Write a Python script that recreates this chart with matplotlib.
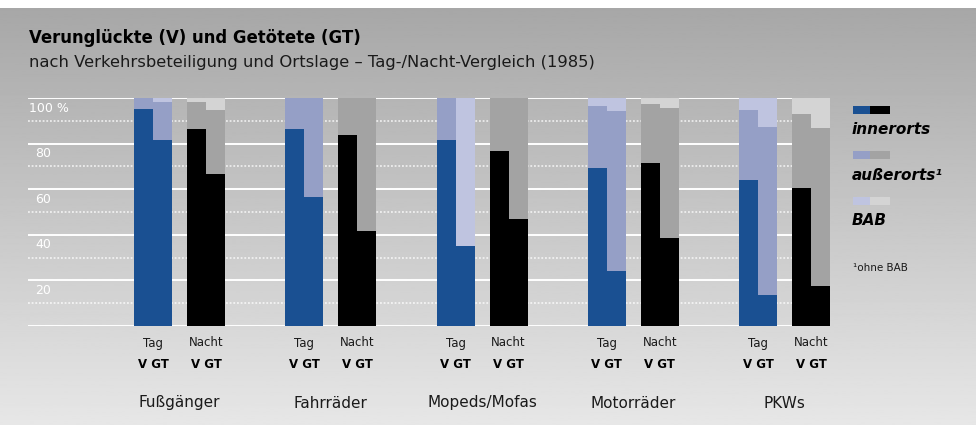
import numpy as np
import matplotlib
matplotlib.use("Agg")
import matplotlib.pyplot as plt

plt.rcParams['font.family'] = ['DejaVu Sans']

categories = ['Fußgänger', 'Fahrräder', 'Mopeds/Mofas', 'Motorräder', 'PKWs']
day_labels = ['Tag', 'Nacht']
sub_labels = 'V GT'
legend_labels = ['innerorts', 'außerorts¹', 'BAB']
footnote = '¹ohne BAB'
yticks = [20, 40, 60, 80, 100]

# shares in % (innerorts, außerorts, BAB)
tag_v_inner = [95.2, 86.4, 81.6, 69.3, 64.0]
tag_v_ausser = [4.8, 13.6, 18.4, 27.2, 30.7]
tag_v_bab = [0.0, 0.0, 0.0, 3.5, 5.3]
tag_gt_inner = [81.6, 56.6, 35.1, 24.1, 13.6]
tag_gt_ausser = [16.6, 43.4, 64.9, 70.2, 73.7]
tag_gt_bab = [1.8, 0.0, 0.0, 5.7, 12.7]
nacht_v_inner = [86.4, 83.8, 76.8, 71.5, 60.5]
nacht_v_ausser = [11.8, 16.2, 23.2, 25.9, 32.5]
nacht_v_bab = [1.8, 0.0, 0.0, 2.6, 7.0]
nacht_gt_inner = [66.7, 41.7, 46.9, 38.6, 17.5]
nacht_gt_ausser = [28.0, 58.3, 53.1, 57.0, 69.3]
nacht_gt_bab = [5.3, 0.0, 0.0, 4.4, 13.2]

W, H = 976, 425
fig = plt.figure(figsize=(W / 100, H / 100), dpi=100)

# background gradient
bg = fig.add_axes([0, 0, 1, 1])
bg.set_xlim(0, W)
bg.set_ylim(H, 0)
bg.axis('off')
grad = np.linspace(0.655, 0.905, 300).reshape(-1, 1)
bg.imshow(grad, cmap='gray', vmin=0, vmax=1, extent=[0, W, H, 8], aspect='auto')
bg.add_patch(plt.Rectangle((0, 0), W, 8, color='white', lw=0))

# main axes: px 28..830 horizontally, 98..326 vertically
ax = fig.add_axes([28 / W, (H - 326) / H, (830 - 28) / W, 228 / H])
ax.set_facecolor('none')
ax.set_xlim(-1.0017, 4.3008)
ax.set_ylim(0, 100)
ax.axis('off')

for v in [0, 20, 40, 60, 80, 100]:
    ax.axhline(v, color='white', lw=1.4, zorder=1)
for v in [10, 30, 50, 70, 90]:
    ax.axhline(v, color='white', lw=1.1, ls=(0, (1.2, 1.2)), zorder=1, alpha=0.85)

blue_cols = ['#1a5092', '#959fc6', '#bfc4e0']
gray_cols = ['#000000', '#a3a3a3', '#d4d4d4']

bw = 19 / 151.25
off_day = 26.5 / 151.25
x = np.arange(len(categories))

series = [
    (-off_day - bw / 2, [tag_v_inner, tag_v_ausser, tag_v_bab], blue_cols),
    (-off_day + bw / 2, [tag_gt_inner, tag_gt_ausser, tag_gt_bab], blue_cols),
    (off_day - bw / 2, [nacht_v_inner, nacht_v_ausser, nacht_v_bab], gray_cols),
    (off_day + bw / 2, [nacht_gt_inner, nacht_gt_ausser, nacht_gt_bab], gray_cols),
]
for k, (dx, segs, cols) in enumerate(series):
    bottom = np.zeros(len(categories))
    for j, seg in enumerate(segs):
        seg = np.array(seg)
        colors = [cols[j]] * len(categories)
        if k == 1 and j == 1:
            colors[2] = cols[2]  # Mopeds GT außerorts drawn in light tone in the original
        ax.bar(x + dx, seg, bw, bottom=bottom, color=colors, lw=0, zorder=2)
        bottom += seg

# y tick labels (placed just below the lines)
for v in yticks:
    if v == 100:
        fig.text(29 / W, 1 - 108 / H, '100 %', color='white', fontsize=9,
                 ha='left', va='center')
    else:
        ypx = 326 - v * 2.28 + 10
        fig.text(35 / W, 1 - ypx / H, str(v), color='white', fontsize=9,
                 ha='left', va='center')

# x labels
for i, cat in enumerate(categories):
    for s, dx in zip(day_labels, [-off_day, off_day]):
        xf = (28 + (i + dx + 1.0017) * 151.25) / W
        fig.text(xf, 1 - 343 / H, s, fontsize=8.5, ha='center', va='center', color='#1a1a1a')
        fig.text(xf, 1 - 365 / H, sub_labels, fontsize=8.5, fontweight='bold',
                 ha='center', va='center', color='#000000')
    xf = (28 + (i + 1.0017) * 151.25) / W
    fig.text(xf, 1 - 403 / H, cat, fontsize=11, ha='center', va='center', color='#1a1a1a')

# title
fig.text(29 / W, 1 - 38 / H, 'Verunglückte (V) und Getötete (GT)', fontsize=11.9,
         fontweight='bold', ha='left', va='center', color='#000000')
fig.text(29 / W, 1 - 62 / H,
         'nach Verkehrsbeteiligung und Ortslage – Tag-/Nacht-Vergleich (1985)',
         fontsize=11.8, ha='left', va='center', color='#1a1a1a')

# legend
sw_y = [106, 151, 197]
txt_y = [130, 175, 220]
for j in range(3):
    bg.add_patch(plt.Rectangle((853, sw_y[j]), 17, 8, color=blue_cols[j], lw=0))
    bg.add_patch(plt.Rectangle((870, sw_y[j]), 20, 8, color=gray_cols[j], lw=0))
    bg.text(852, txt_y[j], legend_labels[j], fontsize=11, fontweight='bold',
            style='italic', ha='left', va='center', color='#000000')
bg.text(853, 268, footnote, fontsize=7.5, ha='left', va='center', color='#1a1a1a')

fig.savefig('out.png', dpi=100)
